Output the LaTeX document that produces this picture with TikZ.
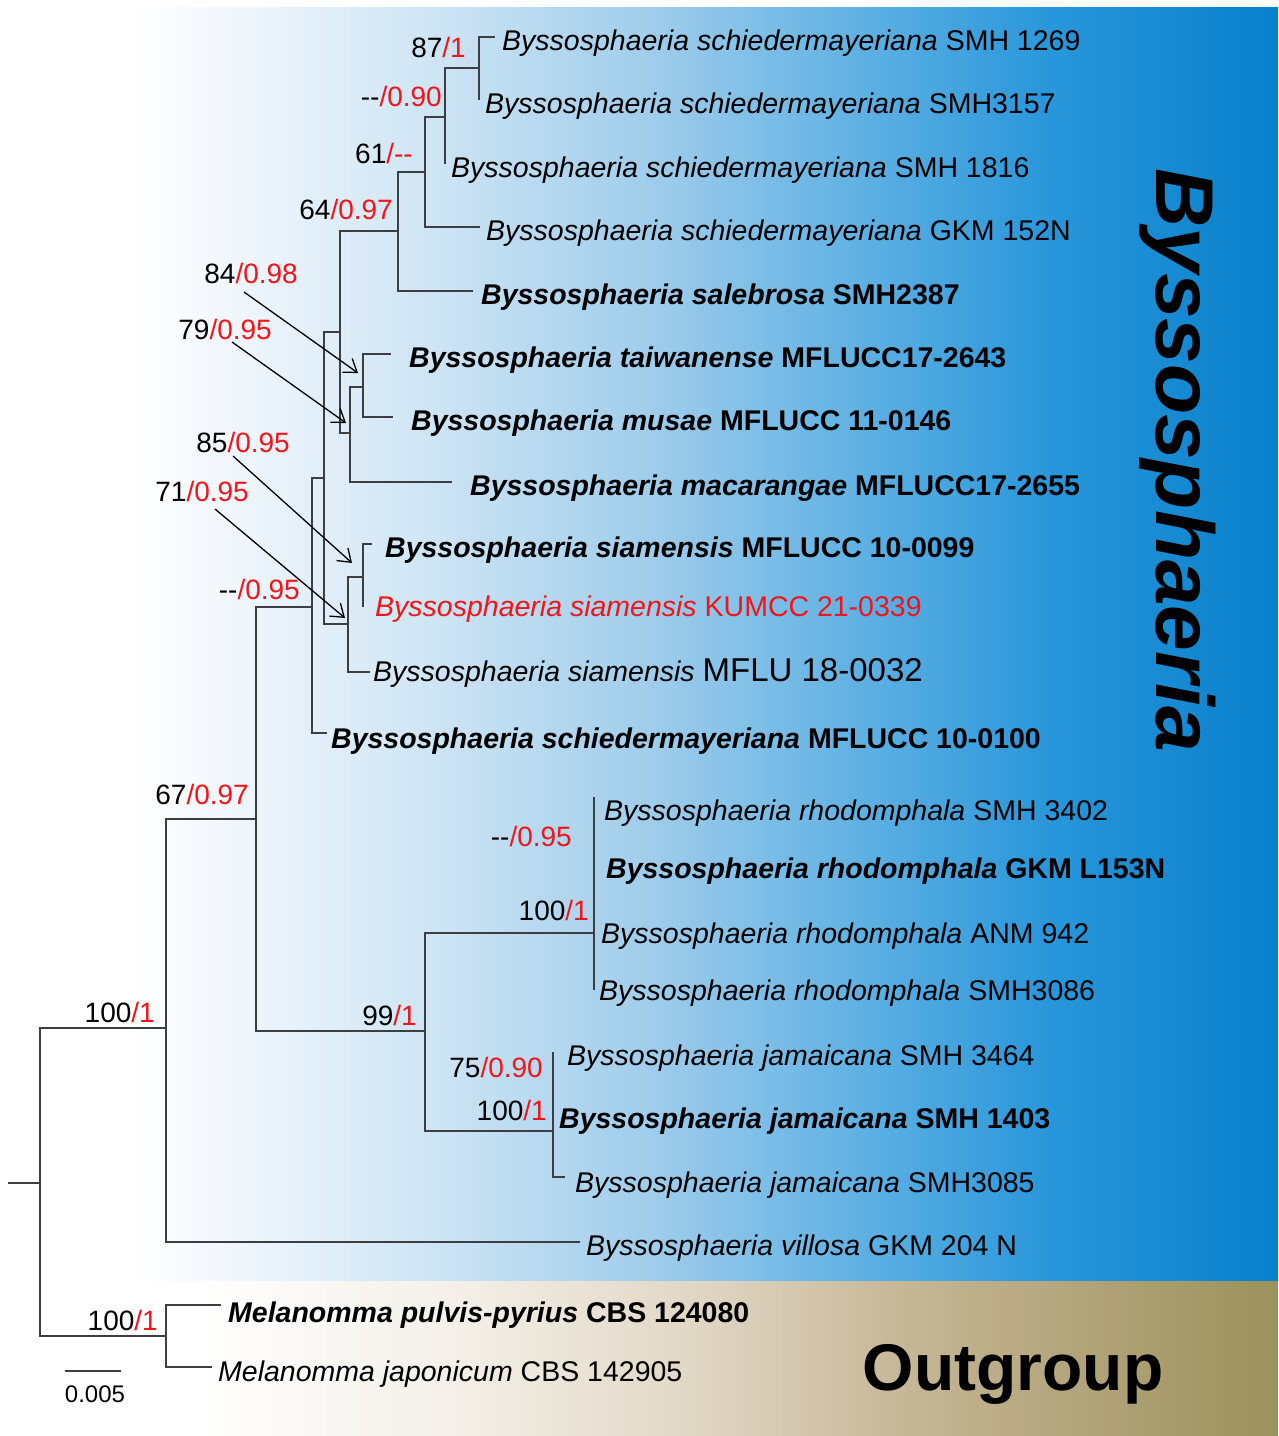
\documentclass[tikz,border=0pt]{standalone}
\usepackage{fontspec}
\setmainfont{Liberation Sans}
\usetikzlibrary{arrows.meta}
\definecolor{lbl}{RGB}{242,20,24}
\definecolor{brc}{RGB}{60,62,66}
\definecolor{bA}{RGB}{238,245,251}
\definecolor{bB}{RGB}{203,227,243}
\definecolor{bC}{RGB}{160,205,235}
\definecolor{bD}{RGB}{98,178,227}
\definecolor{bE}{RGB}{40,150,218}
\definecolor{bF}{RGB}{8,128,204}
\definecolor{oA}{RGB}{244,240,233}
\definecolor{oB}{RGB}{224,214,196}
\definecolor{oC}{RGB}{198,183,151}
\definecolor{oD}{RGB}{176,162,119}
\definecolor{oE}{RGB}{155,146,92}
\pgfdeclarehorizontalshading{bluegrad}{100bp}{color(0bp)=(white); color(25bp)=(white); color(30.2bp)=(bA); color(38.9bp)=(bB); color(47.6bp)=(bC); color(56.4bp)=(bD); color(65.1bp)=(bE); color(75bp)=(bF); color(100bp)=(bF)}
\pgfdeclarehorizontalshading{outgrad}{100bp}{color(0bp)=(white); color(25bp)=(white); color(36.6bp)=(oA); color(48.2bp)=(oB); color(57.5bp)=(oC); color(66.7bp)=(oD); color(75bp)=(oE); color(100bp)=(oE)}
\newcommand{\bsv}[2]{#1\textcolor{lbl}{/#2}}
\newcommand{\gen}{Byssosphaeria}
\begin{document}
\begin{tikzpicture}[x=1pt,y=-1pt,
  leaf/.style={anchor=base west, inner sep=0pt, font=\fontsize{28.5}{32}\selectfont},
  supp/.style={anchor=base east, inner sep=0pt, font=\fontsize{28}{32}\selectfont},
  br/.style={draw=brc, line width=1.3pt},
  arr/.style={-{Straight Barb[length=12pt,width=17pt]}, line width=1.3pt, black}]
\useasboundingbox (0,0) rectangle (1278,1436);
\fill[white] (0,0) rectangle (1278,1436);
\shade[shading=bluegrad] (130,7) rectangle (1278,1281);
\shade[shading=outgrad] (200,1281) rectangle (1278,1436);

% clade labels
\node[rotate=-90, inner sep=0pt, font=\fontsize{82}{90}\selectfont\bfseries\itshape] (clade) at (1178,460) {Byssosphaeria};
\node[inner sep=0pt, font=\fontsize{66}{72}\selectfont\bfseries] (outg) at (1013,1374) {Outgroup};

% internal nodes and tips
\coordinate (R0) at (8,1183);
\coordinate (R) at (40,1183);
\coordinate (I) at (166,1028);
\coordinate (O) at (166,1336);
\coordinate (N67) at (256,819);
\coordinate (N71) at (312,607);
\coordinate (N99) at (425,1031);
\coordinate (Nrh) at (594,933);
\coordinate (Nja) at (553,1131);
\coordinate (G) at (324,478);
\coordinate (F) at (340,332);
\coordinate (H) at (348,624);
\coordinate (D) at (398,231);
\coordinate (E) at (350,433);
\coordinate (TM) at (363,387);
\coordinate (C) at (425,172);
\coordinate (B) at (445,117);
\coordinate (A) at (479,68);
\coordinate (S) at (363,577);
\coordinate (t1) at (495,37);
\coordinate (t2) at (479,100);
\coordinate (t3) at (445,164);
\coordinate (t4) at (480,227);
\coordinate (t5) at (473,291);
\coordinate (t6) at (391,354);
\coordinate (t7) at (393,417);
\coordinate (t8) at (452,482);
\coordinate (t9) at (372,544);
\coordinate (t10) at (363,607);
\coordinate (t11) at (370,672);
\coordinate (t12) at (327,733);
\coordinate (rtop) at (594,797);
\coordinate (rbot) at (594,990);
\coordinate (jtop) at (553,1052);
\coordinate (t19) at (565,1177);
\coordinate (t20) at (580,1242);
\coordinate (t21) at (221,1305);
\coordinate (t22) at (212,1367);

% branches
\draw[br] (R0) -- (R);
\draw[br] (R) |- (I);
\draw[br] (R) |- (O);
\draw[br] (O) |- (t21);
\draw[br] (O) |- (t22);
\draw[br] (I) |- (N67);
\draw[br] (I) |- (t20);
\draw[br] (N67) |- (N71);
\draw[br] (N67) |- (N99);
\draw[br] (N99) |- (Nrh);
\draw[br] (N99) |- (Nja);
\draw[br] (rtop) -- (rbot);
\draw[br] (jtop) -- (Nja) |- (t19);
\draw[br] (N71) |- (G);
\draw[br] (N71) |- (t12);
\draw[br] (G) |- (F);
\draw[br] (G) |- (H);
\draw[br] (F) |- (D);
\draw[br] (F) |- (E);
\draw[br] (E) |- (TM);
\draw[br] (E) |- (t8);
\draw[br] (TM) |- (t6);
\draw[br] (TM) |- (t7);
\draw[br] (D) |- (C);
\draw[br] (D) |- (t5);
\draw[br] (C) |- (B);
\draw[br] (C) |- (t4);
\draw[br] (B) |- (A);
\draw[br] (B) -- (t3);
\draw[br] (A) |- (t1);
\draw[br] (A) -- (t2);
\draw[br] (H) |- (S);
\draw[br] (H) |- (t11);
\draw[br] (S) |- (t9);
\draw[br] (S) -- (t10);

% leaves
\node[leaf] (l1) at (502,50) {\textit{\gen\ schiedermayeriana} SMH 1269};
\node[leaf] (l2) at (485,113) {\textit{\gen\ schiedermayeriana} SMH3157};
\node[leaf] (l3) at (451,177) {\textit{\gen\ schiedermayeriana} SMH 1816};
\node[leaf] (l4) at (486,240) {\textit{\gen\ schiedermayeriana} GKM 152N};
\node[leaf] (l5) at (481,304) {\bfseries\textit{\gen\ salebrosa} SMH2387};
\node[leaf] (l6) at (409,367) {\bfseries\textit{\gen\ taiwanense} MFLUCC17-2643};
\node[leaf] (l7) at (411,430) {\bfseries\textit{\gen\ musae} MFLUCC 11-0146};
\node[leaf] (l8) at (470,495) {\bfseries\textit{\gen\ macarangae} MFLUCC17-2655};
\node[leaf] (l9) at (385,557) {\bfseries\textit{\gen\ siamensis} MFLUCC 10-0099};
\node[leaf, text=lbl] (l10) at (375,616) {\textit{\gen\ siamensis} KUMCC 21-0339};
\node[leaf] (l11) at (373,681) {\textit{\gen\ siamensis} {\fontsize{33}{36}\selectfont MFLU 18-0032}};
\node[leaf] (l12) at (331,748) {\bfseries\textit{\gen\ schiedermayeriana} MFLUCC 10-0100};
\node[leaf] (l13) at (604,820) {\textit{\gen\ rhodomphala} SMH 3402};
\node[leaf] (l14) at (606,878) {\bfseries\textit{\gen\ rhodomphala} GKM L153N};
\node[leaf] (l15) at (601,943) {\textit{\gen\ rhodomphala} ANM 942};
\node[leaf] (l16) at (599,1000) {\textit{\gen\ rhodomphala} SMH3086};
\node[leaf] (l17) at (567,1065) {\textit{\gen\ jamaicana} SMH 3464};
\node[leaf] (l18) at (559,1128) {\bfseries\textit{\gen\ jamaicana} SMH 1403};
\node[leaf] (l19) at (575,1192) {\textit{\gen\ jamaicana} SMH3085};
\node[leaf] (l20) at (586,1255) {\textit{\gen\ villosa} GKM 204 N};
\node[leaf] (l21) at (228,1322) {\bfseries\textit{Melanomma pulvis-pyrius} CBS 124080};
\node[leaf] (l22) at (218,1381) {\textit{Melanomma japonicum} CBS 142905};

% support values
\node[supp] (s87) at (466,57) {\bsv{87}{1}};
\node[supp] (sB) at (442,106) {\bsv{-{}-}{0.90}};
\node[supp] (s61) at (413,163) {\bsv{61}{-{}-}};
\node[supp] (s64) at (393,219) {\bsv{64}{0.97}};
\node[supp] (s84) at (298,283) {\bsv{84}{0.98}};
\node[supp] (s79) at (272,339) {\bsv{79}{0.95}};
\node[supp] (s85) at (290,452) {\bsv{85}{0.95}};
\node[supp] (s71) at (249,501) {\bsv{71}{0.95}};
\node[supp] (sN71) at (300,599) {\bsv{-{}-}{0.95}};
\node[supp] (s67) at (249,804) {\bsv{67}{0.97}};
\node[supp] (sI) at (155,1022) {\bsv{100}{1}};
\node[supp] (srh2) at (572,846) {\bsv{-{}-}{0.95}};
\node[supp] (srh) at (589,920) {\bsv{100}{1}};
\node[supp] (s99) at (417,1025) {\bsv{99}{1}};
\node[supp] (s75) at (543,1077) {\bsv{75}{0.90}};
\node[supp] (sja) at (547,1120) {\bsv{100}{1}};
\node[supp] (sO) at (158,1330) {\bsv{100}{1}};

% arrows
\coordinate (a1s) at (244,292); \coordinate (a1e) at (358,373);
\coordinate (a2s) at (232,342); \coordinate (a2e) at (346,423);
\coordinate (a3s) at (233,456); \coordinate (a3e) at (352,563);
\coordinate (a4s) at (215,509); \coordinate (a4e) at (345,618);
\draw[arr] (a1s) -- (a1e);
\draw[arr] (a2s) -- (a2e);
\draw[arr] (a3s) -- (a3e);
\draw[arr] (a4s) -- (a4e);

% scale bar
\coordinate (sb1) at (65,1371);
\coordinate (sb2) at (121,1371);
\draw[br] (sb1) -- (sb2);
\node[anchor=base, inner sep=0pt, font=\fontsize{24}{28}\selectfont] (sbl) at (95,1402) {0.005};
\end{tikzpicture}
\end{document}
